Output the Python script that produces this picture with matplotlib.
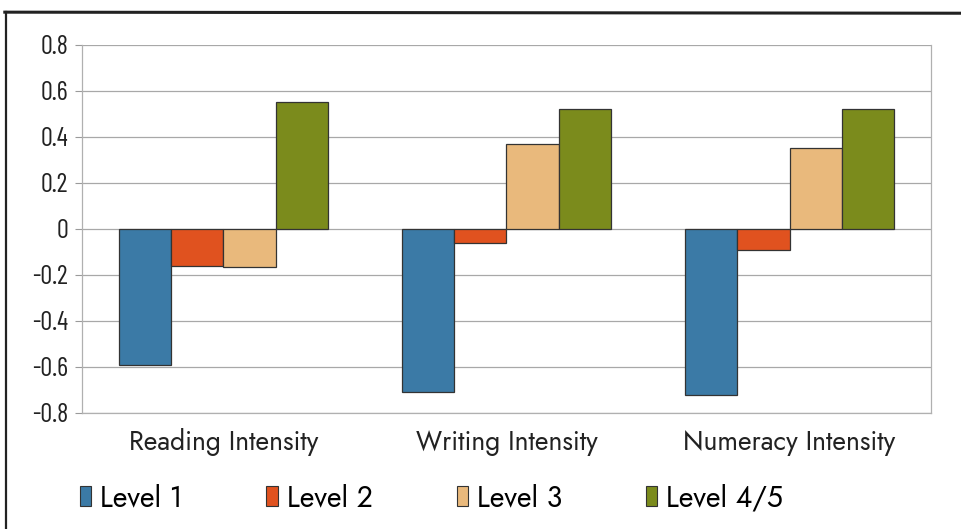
import matplotlib
matplotlib.use('Agg')
import matplotlib.pyplot as plt
import numpy as np
from matplotlib.lines import Line2D
from matplotlib.patches import Patch

categories = ['Reading Intensity', 'Writing Intensity', 'Numeracy Intensity']
levels = ['Level 1', 'Level 2', 'Level 3', 'Level 4/5']
level1 = [-0.59, -0.71, -0.72]
level2 = [-0.16, -0.06, -0.09]
level3 = [-0.165, 0.37, 0.35]
level45 = [0.55, 0.52, 0.52]
yticks = [-0.8, -0.6, -0.4, -0.2, 0, 0.2, 0.4, 0.6, 0.8]
ytick_labels = ['-0.8', '-0.6', '-0.4', '-0.2', '0', '0.2', '0.4', '0.6', '0.8']

colors = ['#3b7aa6', '#e0521f', '#e9b97c', '#7b8b1c']
narrow = ['Barlow Condensed', 'DejaVu Sans']
label_font = ['Jost', 'DejaVu Sans']

fig = plt.figure(figsize=(9.61, 5.29), dpi=100)
ax = fig.add_axes([0.0853, 0.2193, 0.8835, 0.6957])

x = np.arange(len(categories))
w = 0.184
series = [level1, level2, level3, level45]
for i, vals in enumerate(series):
    ax.bar(x + (i - 1.5) * w, vals, width=w, color=colors[i],
           edgecolor='#333333', linewidth=0.9, label=levels[i], zorder=3)

ax.set_xlim(-0.5, 2.5)
ax.set_ylim(-0.8, 0.8)
ax.set_yticks(yticks)
ax.set_yticklabels(ytick_labels, family=narrow, fontsize=19)
ax.set_xticks(x)
ax.set_xticklabels(categories, family=label_font, fontsize=19, color='#222222')
ax.tick_params(axis='x', length=0, pad=11)
ax.tick_params(axis='y', length=5, width=0.8, color='#9a9a9a', pad=5, labelcolor='#222222')
ax.yaxis.grid(True, color='#a8a8a8', linewidth=0.9, zorder=0)
for s in ['left', 'right', 'bottom', 'top']:
    ax.spines[s].set_color('#b0b0b0')
    ax.spines[s].set_linewidth(0.9)
ax.spines['top'].set_visible(False)

handles = [Patch(facecolor=colors[i], edgecolor='#333333', linewidth=0.8) for i in range(4)]
fig.legend(handles, levels, loc='center left', bbox_to_anchor=(0.083, 0.058),
           ncol=4, frameon=False, borderpad=0, borderaxespad=0,
           handlelength=0.39, handleheight=0.7,
           handletextpad=0.32, columnspacing=2.95,
           prop={'family': label_font, 'size': 20.5})

# page frame around the figure
fig.add_artist(Line2D([0.005, 1.0], [0.977, 0.975], color='#222222', linewidth=2.2))
fig.add_artist(Line2D([0.006, 0.006], [0.977, 0.0], color='#222222', linewidth=1.6))

fig.savefig('out.png', dpi=100)
